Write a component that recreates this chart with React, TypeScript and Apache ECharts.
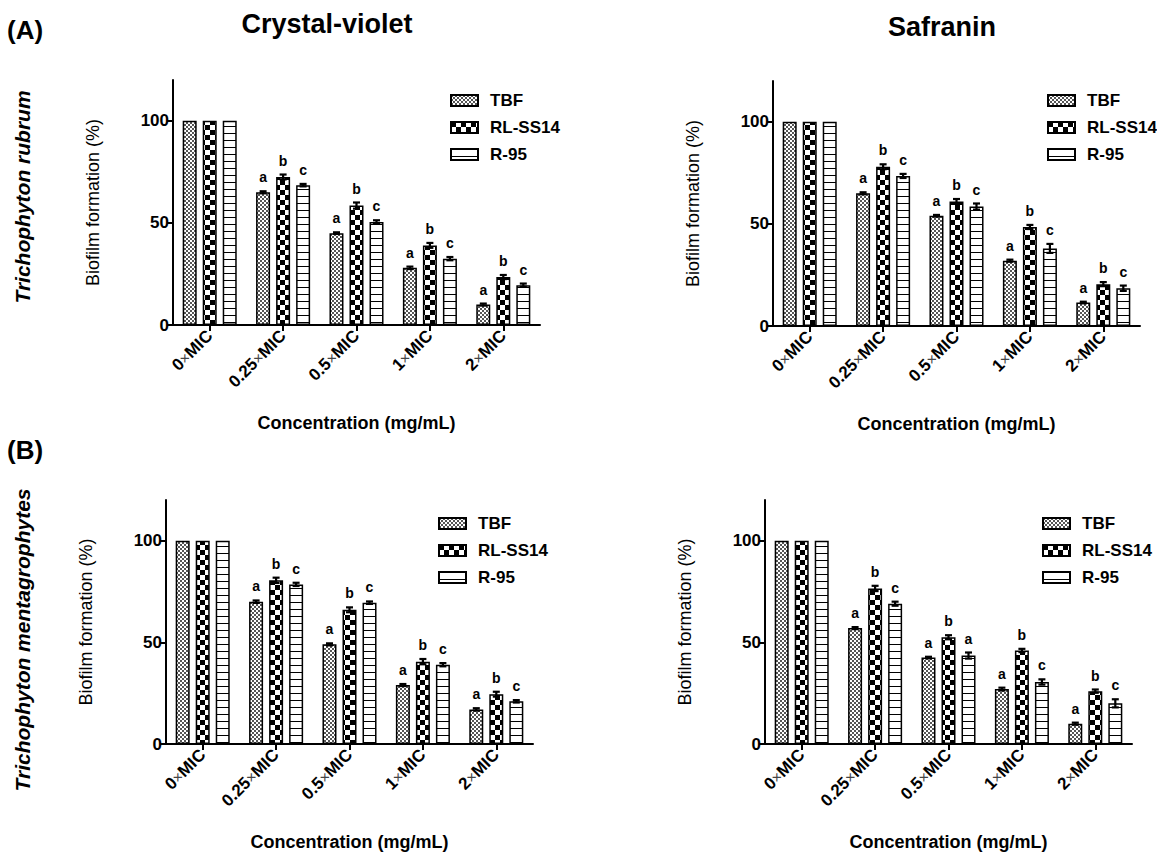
import React, { useEffect, useRef } from "react";
import * as echarts from "echarts";

// ---------- data ----------
const categories = ["0×MIC", "0.25×MIC", "0.5×MIC", "1×MIC", "2×MIC"];
const seriesNames = ["TBF", "RL-SS14", "R-95"];
const yTicks = [0, 50, 100];

// (A) Trichophyton rubrum — Crystal-violet
const rubrumCV_TBF = [100, 65, 45, 28, 10];
const rubrumCV_RL = [100, 72.5, 58.5, 39, 23.5];
const rubrumCV_R95 = [100, 68.5, 50.5, 32.5, 19.5];
const rubrumCV_TBF_err = [0, 0.5, 0.4, 0.6, 0.5];
const rubrumCV_RL_err = [0, 1.2, 1.5, 1.2, 1];
const rubrumCV_R95_err = [0, 0.6, 0.8, 0.8, 0.8];

// (A) Trichophyton rubrum — Safranin
const rubrumSaf_TBF = [100, 65, 54, 32, 11.5];
const rubrumSaf_RL = [100, 78, 61, 48.5, 20.5];
const rubrumSaf_R95 = [100, 73.5, 58.5, 38, 18.5];
const rubrumSaf_TBF_err = [0, 0.5, 0.4, 0.5, 0.4];
const rubrumSaf_RL_err = [0, 1.2, 1.2, 1, 1];
const rubrumSaf_R95_err = [0, 1, 1.5, 2.2, 1.3];

// (B) Trichophyton mentagrophytes — Crystal-violet
const mentaCV_TBF = [100, 70, 49, 29, 17];
const mentaCV_RL = [100, 80.5, 66, 40.5, 24.5];
const mentaCV_R95 = [100, 78.5, 69.5, 39, 21];
const mentaCV_TBF_err = [0, 0.6, 0.5, 0.5, 0.6];
const mentaCV_RL_err = [0, 1.3, 1.2, 1.3, 1.2];
const mentaCV_R95_err = [0, 0.8, 0.6, 0.8, 0.6];

// (B) Trichophyton mentagrophytes — Safranin
const mentaSaf_TBF = [100, 57, 42.5, 27, 10];
const mentaSaf_RL = [100, 76.5, 52.5, 46, 26];
const mentaSaf_R95 = [100, 69, 43.5, 30.5, 20];
const mentaSaf_TBF_err = [0, 0.5, 0.4, 0.7, 0.5];
const mentaSaf_RL_err = [0, 1.3, 1, 0.8, 0.8];
const mentaSaf_R95_err = [0, 1, 1.5, 1.3, 2];

// significance letters
const lettersTBF = ["", "a", "a", "a", "a"];
const lettersRL = ["", "b", "b", "b", "b"];
const lettersR95 = ["", "c", "c", "c", "c"];
const lettersR95_mentaSaf = ["", "c", "a", "c", "c"];

const panels = [
  {
    values: [rubrumCV_TBF, rubrumCV_RL, rubrumCV_R95],
    errors: [rubrumCV_TBF_err, rubrumCV_RL_err, rubrumCV_R95_err],
    letters: [lettersTBF, lettersRL, lettersR95],
  },
  {
    values: [rubrumSaf_TBF, rubrumSaf_RL, rubrumSaf_R95],
    errors: [rubrumSaf_TBF_err, rubrumSaf_RL_err, rubrumSaf_R95_err],
    letters: [lettersTBF, lettersRL, lettersR95],
  },
  {
    values: [mentaCV_TBF, mentaCV_RL, mentaCV_R95],
    errors: [mentaCV_TBF_err, mentaCV_RL_err, mentaCV_R95_err],
    letters: [lettersTBF, lettersRL, lettersR95],
  },
  {
    values: [mentaSaf_TBF, mentaSaf_RL, mentaSaf_R95],
    errors: [mentaSaf_TBF_err, mentaSaf_RL_err, mentaSaf_R95_err],
    letters: [lettersTBF, lettersRL, lettersR95_mentaSaf],
  },
];

// ---------- layout ----------
const FONT = '"Liberation Sans", Arial, sans-serif';
const grids = [
  { left: 173, top: 80, width: 367, height: 245 },
  { left: 773, top: 81, width: 367, height: 245 },
  { left: 166, top: 500, width: 367, height: 245 },
  { left: 765, top: 500, width: 367, height: 245 },
];
const legendPos = [
  { left: 445, top: 87 },
  { left: 1042, top: 87 },
  { left: 433, top: 510 },
  { left: 1037, top: 510 },
];
const BAR_W = 14;
const BAR_STEP = 20;

function makePattern(kind: string) {
  const c = document.createElement("canvas");
  let w = 4,
    h = 4;
  if (kind === "fine") {
    w = 4;
    h = 4;
  } else if (kind === "checker") {
    w = 10;
    h = 10;
  } else {
    w = 4;
    h = 7;
  }
  c.width = w;
  c.height = h;
  const ctx = c.getContext("2d")!;
  ctx.fillStyle = "#fff";
  ctx.fillRect(0, 0, w, h);
  if (kind === "fine") {
    ctx.fillStyle = "#555";
    ctx.fillRect(0, 0, 2, 2);
    ctx.fillRect(2, 2, 2, 2);
  } else if (kind === "checker") {
    ctx.fillStyle = "#000";
    ctx.fillRect(0, 0, 5, 5);
    ctx.fillRect(5, 5, 5, 5);
  } else {
    ctx.fillStyle = "#000";
    ctx.fillRect(0, 0, w, 1);
  }
  return {
    image: c.toDataURL(),
    repeat: "repeat",
    imageWidth: w,
    imageHeight: h,
  } as any;
}

export default function App() {
  const ref = useRef<HTMLDivElement>(null);
  useEffect(() => {
    if (!ref.current) return;
    const chart = echarts.init(ref.current, null, { renderer: "svg" });
    const fills = [makePattern("fine"), makePattern("checker"), makePattern("lines")];

    const xAxes: any[] = [];
    const yAxes: any[] = [];
    const series: any[] = [];
    const legends: any[] = [];

    panels.forEach((p, pi) => {
      xAxes.push({
        type: "category",
        gridIndex: pi,
        data: categories,
        axisLine: { show: true, lineStyle: { color: "#000", width: 2 } },
        axisTick: { show: true, alignWithLabel: true, length: 6, lineStyle: { color: "#000", width: 2 } },
        axisLabel: {
          interval: 0,
          rotate: 45,
          margin: 8,
          color: "#000",
          fontSize: 17,
          fontWeight: "bold",
          fontFamily: FONT,
          formatter: (v: string) => v.replace("×", "{m|×}"),
          rich: { m: { fontSize: 15, fontWeight: "normal", color: "#444", fontFamily: FONT } },
        },
        name: "Concentration (mg/mL)",
        nameLocation: "middle",
        nameGap: 89,
        nameTextStyle: { color: "#000", fontSize: 18, fontWeight: "bold", fontFamily: FONT },
      });
      yAxes.push({
        type: "value",
        gridIndex: pi,
        min: 0,
        max: 120,
        interval: 50,
        splitLine: { show: false },
        axisLine: { show: true, lineStyle: { color: "#000", width: 2 } },
        axisTick: { show: true, length: 6, lineStyle: { color: "#000", width: 2 }, customValues: yTicks },
        axisLabel: {
          color: "#000",
          fontSize: 17,
          fontWeight: "bold",
          fontFamily: FONT,
          margin: 4,
          customValues: yTicks,
        },
        name: "Biofilm formation (%)",
        nameLocation: "middle",
        nameGap: 71,
        nameTextStyle: { color: "#000", fontSize: 18, fontFamily: FONT },
      });
      legends.push({
        data: seriesNames,
        orient: "vertical",
        left: legendPos[pi].left,
        top: legendPos[pi].top,
        icon: "rect",
        itemWidth: 27,
        itemHeight: 11,
        itemGap: 10,
        selectedMode: false,
        textStyle: {
          color: "#000",
          fontSize: 17,
          fontWeight: "bold",
          fontFamily: FONT,
          padding: [0, 0, 0, 7],
        },
      });
      seriesNames.forEach((name, gi) => {
        series.push({
          type: "bar",
          name,
          xAxisIndex: pi,
          yAxisIndex: pi,
          barWidth: BAR_W,
          barGap: "43%",
          data: p.values[gi],
          itemStyle: { color: fills[gi], borderColor: "#000", borderWidth: 1.5 },
          z: 2,
        });
        const letters = p.letters[gi];
        const offset = (gi - 1) * BAR_STEP;
        series.push({
          type: "custom",
          xAxisIndex: pi,
          yAxisIndex: pi,
          z: 5,
          silent: true,
          data: p.values[gi].map((v, i) => [i, v, p.errors[gi][i]]),
          renderItem: (params: any, api: any) => {
            const i = api.value(0);
            const letter = letters[i];
            if (!letter) return null;
            const v = api.value(1);
            const e = api.value(2);
            const top = api.coord([i, v + e]);
            const bot = api.coord([i, v - e]);
            const x = top[0] + offset;
            const capW = 3.5;
            const ls = { stroke: "#000", lineWidth: 2.2 };
            return {
              type: "group",
              children: [
                { type: "line", shape: { x1: x, y1: top[1], x2: x, y2: bot[1] }, style: ls },
                { type: "line", shape: { x1: x - capW, y1: top[1], x2: x + capW, y2: top[1] }, style: ls },
                { type: "line", shape: { x1: x - capW, y1: bot[1], x2: x + capW, y2: bot[1] }, style: ls },
                {
                  type: "text",
                  style: {
                    text: letter,
                    x,
                    y: top[1] - 14,
                    align: "center",
                    verticalAlign: "middle",
                    fontSize: 14,
                    fontWeight: "bold",
                    fontFamily: FONT,
                    fill: "#000",
                  },
                },
              ],
            };
          },
        });
      });
    });

    const titleFont = (size: number, italic = false) => ({
      fontSize: size,
      fontWeight: "bold",
      fontStyle: italic ? "italic" : "normal",
      fontFamily: FONT,
      fill: "#000",
    });

    chart.setOption({
      animation: false,
      backgroundColor: "#fff",
      grid: grids.map((g) => ({ ...g, containLabel: false })),
      xAxis: xAxes,
      yAxis: yAxes,
      legend: legends,
      series,
      graphic: [
        { type: "text", x: 7, y: 30, style: { text: "(A)", align: "left", verticalAlign: "middle", ...titleFont(26) } },
        { type: "text", x: 7, y: 450, style: { text: "(B)", align: "left", verticalAlign: "middle", ...titleFont(26) } },
        { type: "text", x: 327, y: 24, style: { text: "Crystal-violet", align: "center", verticalAlign: "middle", ...titleFont(27) } },
        { type: "text", x: 942, y: 27, style: { text: "Safranin", align: "center", verticalAlign: "middle", ...titleFont(27) } },
        {
          type: "text",
          x: 22,
          y: 197,
          rotation: Math.PI / 2,
          style: { text: "Trichophyton rubrum", align: "center", verticalAlign: "middle", ...titleFont(21, true) },
        },
        {
          type: "text",
          x: 22,
          y: 640,
          rotation: Math.PI / 2,
          style: { text: "Trichophyton mentagrophytes", align: "center", verticalAlign: "middle", ...titleFont(21, true) },
        },
      ],
    });
    return () => chart.dispose();
  }, []);
  return (
    <div
      ref={ref}
      style={{ position: "fixed", left: 0, top: 0, width: 1157, height: 852, background: "#fff" }}
    />
  );
}
